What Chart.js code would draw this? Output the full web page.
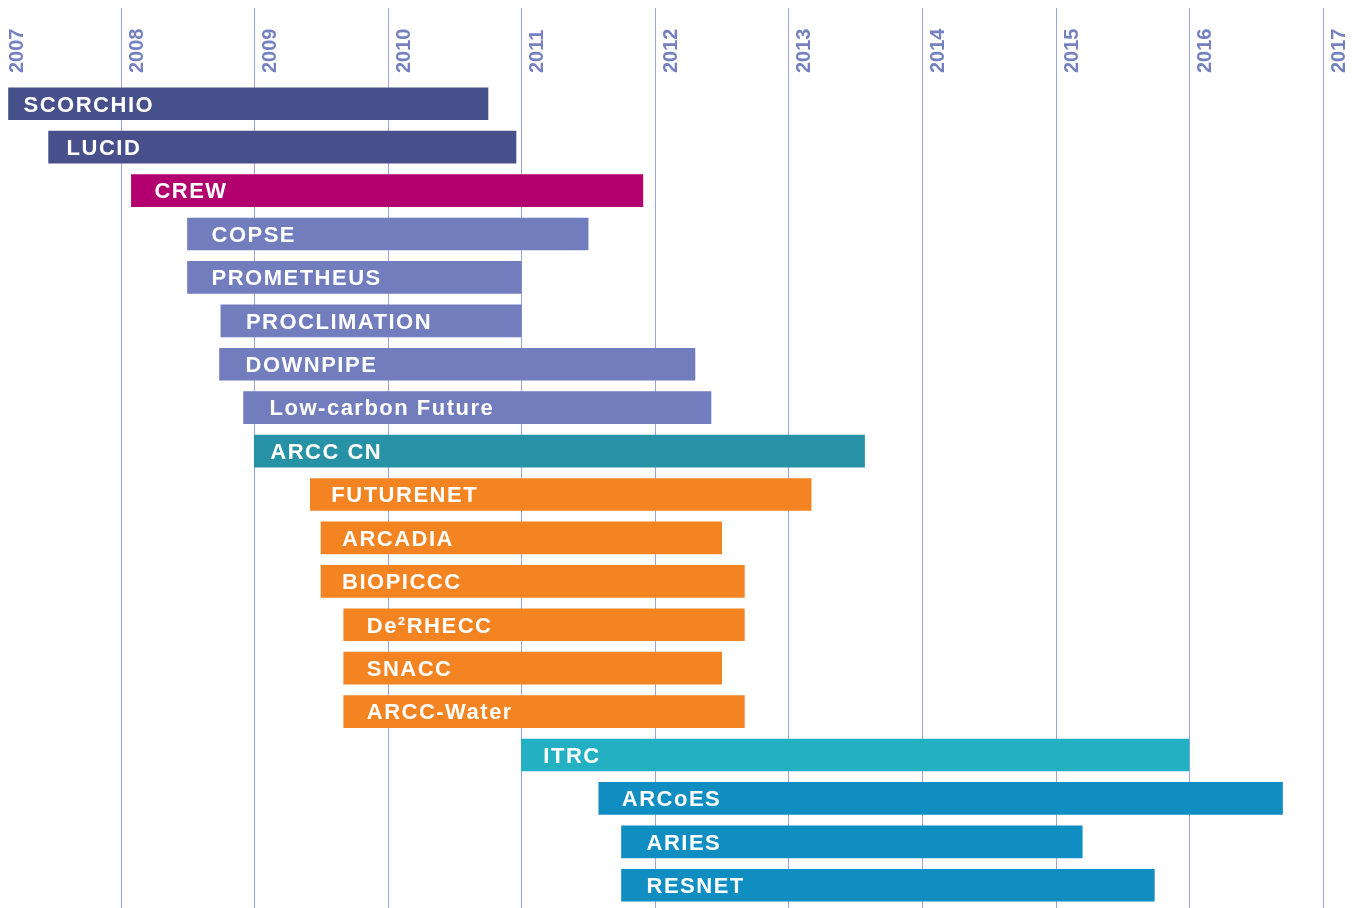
<!DOCTYPE html>
<html>
<head>
<meta charset="utf-8">
<script src="https://cdn.jsdelivr.net/npm/chart.js@4.4.1/dist/chart.umd.min.js"></script>
<style>
  html, body { margin: 0; padding: 0; background: #ffffff; }
  #wrap { width: 1360px; height: 908px; position: relative; }
</style>
</head>
<body>
<div id="wrap"><canvas id="c"></canvas></div>
<script>
// ---- data ----
const projects = [
  'SCORCHIO', 'LUCID', 'CREW', 'COPSE', 'PROMETHEUS', 'PROCLIMATION', 'DOWNPIPE',
  'Low-carbon Future', 'ARCC CN', 'FUTURENET', 'ARCADIA', 'BIOPICCC', 'De\u00B2RHECC',
  'SNACC', 'ARCC-Water', 'ITRC', 'ARCoES', 'ARIES', 'RESNET'
];
const startYear = [
  2007.16, 2007.46, 2008.08, 2008.50, 2008.50, 2008.75, 2008.74,
  2008.92, 2009.00, 2009.42, 2009.50, 2009.50, 2009.67,
  2009.67, 2009.67, 2011.00, 2011.58, 2011.75, 2011.75
];
const endYear = [
  2010.75, 2010.96, 2011.91, 2011.50, 2011.00, 2011.00, 2012.30,
  2012.42, 2013.57, 2013.17, 2012.50, 2012.67, 2012.67,
  2012.50, 2012.67, 2016.00, 2016.70, 2015.20, 2015.74
];
const yearTicks = [2007, 2008, 2009, 2010, 2011, 2012, 2013, 2014, 2015, 2016, 2017];

// ---- styles ----
const NAVY = '#47508a', MAGENTA = '#b3006f', LAVENDER = '#717dbd', TEAL = '#2791a5',
      ORANGE = '#f48322', CYAN = '#23b0c2', BLUE = '#118ec1';
const barColors = [
  NAVY, NAVY, MAGENTA, LAVENDER, LAVENDER, LAVENDER, LAVENDER,
  LAVENDER, TEAL, ORANGE, ORANGE, ORANGE, ORANGE,
  ORANGE, ORANGE, CYAN, BLUE, BLUE, BLUE
];
const labelPad = [15, 18, 23, 24, 24, 25, 26, 26, 16, 21, 21, 21, 23, 23, 23, 22, 23, 25, 25];

const gridAndYears = {
  id: 'gridAndYears',
  beforeDatasetsDraw(chart) {
    const ctx = chart.ctx;
    const xs = chart.scales.x;
    ctx.save();
    ctx.strokeStyle = '#9ca5d7';
    ctx.lineWidth = 1;
    yearTicks.forEach(y => {
      const px = Math.round(xs.getPixelForValue(y)) + 0.5;
      ctx.beginPath();
      ctx.moveTo(px, 8);
      ctx.lineTo(px, chart.height);
      ctx.stroke();
    });
    ctx.fillStyle = '#7480c0';
    ctx.font = 'bold 20px "Liberation Sans", Arial, sans-serif';
    ctx.textAlign = 'left';
    ctx.textBaseline = 'alphabetic';
    yearTicks.forEach(y => {
      const px = Math.max(xs.getPixelForValue(y) + 22, 23);
      ctx.save();
      ctx.translate(px, 73);
      ctx.rotate(-Math.PI / 2);
      ctx.fillText(String(y), 0, 0);
      ctx.restore();
    });
    ctx.restore();
  },
  afterDatasetsDraw(chart) {
    const ctx = chart.ctx;
    const meta = chart.getDatasetMeta(0);
    ctx.save();
    ctx.fillStyle = '#ffffff';
    ctx.font = 'bold 22px "Liberation Sans", Arial, sans-serif';
    if ('letterSpacing' in ctx) ctx.letterSpacing = '1.5px';
    ctx.textAlign = 'left';
    ctx.textBaseline = 'alphabetic';
    meta.data.forEach((bar, i) => {
      const left = Math.min(bar.x, bar.base);
      ctx.fillText(projects[i], left + labelPad[i], bar.y + 7.8);
    });
    ctx.restore();
  }
};

new Chart(document.getElementById('c'), {
  type: 'bar',
  data: {
    labels: projects,
    datasets: [{
      data: projects.map((_, i) => [startYear[i], endYear[i]]),
      backgroundColor: barColors,
      borderWidth: 0,
      borderSkipped: false,
      barThickness: 32
    }]
  },
  options: {
    indexAxis: 'y',
    responsive: true,
    maintainAspectRatio: false,
    animation: false,
    layout: { padding: { top: 82, bottom: 1, left: 0, right: 0 } },
    plugins: { legend: { display: false }, tooltip: { enabled: false } },
    scales: {
      x: { type: 'linear', min: 2007.096, max: 2017.28, display: false },
      y: { display: false }
    }
  },
  plugins: [gridAndYears]
});
</script>
</body>
</html>
